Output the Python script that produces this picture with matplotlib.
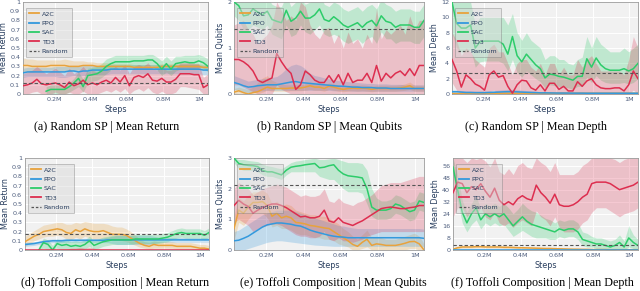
import numpy as np
import matplotlib
matplotlib.use("Agg")
import matplotlib.pyplot as plt
from matplotlib.lines import Line2D

nan = np.nan
steps = np.linspace(0.025e6, 1.05e6, 41)
x_ticks = [0.2e6, 0.4e6, 0.6e6, 0.8e6, 1.0e6]
x_tick_labels = ["0.2M", "0.4M", "0.6M", "0.8M", "1M"]
algos = ["A2C", "PPO", "SAC", "TD3"]

# ---------------- (a) Random SP | Mean Return ----------------
a_a2c = [0.31,0.31,0.30,0.30,0.30,0.30,0.31,0.31,0.31,0.31,0.30,0.30,0.30,0.31,0.31,0.31,0.30,0.30,0.30,0.30,0.30,0.30,0.30,0.30,0.29,0.29,0.29,0.29,0.29,0.29,0.30,0.30,0.30,0.30,0.30,0.30,0.30,0.30,0.30,0.29,0.29]
a_a2c_lo = [0.23,0.24,0.24,0.25,0.25,0.25,0.26,0.26,0.25,0.25,0.25,0.25,0.26,0.26,0.26,0.27,0.27,0.27,0.27,0.27,0.27,0.27,0.27,0.27,0.27,0.27,0.27,0.27,0.27,0.27,0.27,0.27,0.27,0.27,0.27,0.27,0.27,0.27,0.27,0.27,0.27]
a_a2c_hi = [0.39,0.38,0.38,0.37,0.37,0.37,0.37,0.37,0.37,0.38,0.37,0.36,0.36,0.36,0.35,0.35,0.34,0.34,0.34,0.34,0.33,0.33,0.33,0.33,0.32,0.32,0.32,0.32,0.32,0.32,0.33,0.33,0.33,0.33,0.33,0.33,0.33,0.33,0.33,0.32,0.32]
a_ppo = [0.23,0.24,0.24,0.24,0.24,0.24,0.24,0.24,0.24,0.24,0.25,0.25,0.24,0.25,0.25,0.26,0.26,0.26,0.26,0.27,0.27,0.27,0.27,0.27,0.27,0.27,0.27,0.27,0.27,0.27,0.27,0.27,0.27,0.27,0.27,0.27,0.27,0.27,0.27,0.26,0.26]
a_ppo_lo = [0.18,0.19,0.19,0.19,0.19,0.19,0.19,0.19,0.18,0.18,0.19,0.20,0.19,0.20,0.20,0.21,0.21,0.21,0.21,0.22,0.22,0.22,0.22,0.22,0.22,0.22,0.22,0.22,0.22,0.22,0.22,0.22,0.22,0.22,0.22,0.22,0.22,0.22,0.22,0.21,0.21]
a_ppo_hi = [0.28,0.29,0.29,0.29,0.29,0.29,0.29,0.30,0.30,0.30,0.31,0.31,0.30,0.31,0.31,0.31,0.31,0.31,0.31,0.32,0.32,0.32,0.32,0.32,0.32,0.32,0.32,0.32,0.32,0.32,0.32,0.32,0.32,0.32,0.32,0.32,0.32,0.32,0.32,0.31,0.31]
a_sac = [nan,nan,nan,nan,nan,0.03,0.05,0.05,0.05,0.05,0.08,0.12,0.17,0.08,0.20,0.21,0.22,0.25,0.30,0.33,0.35,0.35,0.35,0.35,0.36,0.36,0.36,0.37,0.37,0.33,0.27,0.33,0.27,0.33,0.34,0.35,0.34,0.34,0.36,0.34,0.30]
a_sac_lo = [nan,nan,nan,nan,nan,0.0,0.0,0.0,0.0,0.0,0.02,0.05,0.08,0.02,0.12,0.14,0.15,0.18,0.22,0.26,0.29,0.29,0.29,0.29,0.30,0.30,0.30,0.31,0.30,0.26,0.20,0.24,0.20,0.25,0.27,0.28,0.28,0.28,0.29,0.28,0.24]
a_sac_hi = [nan,nan,nan,nan,nan,0.08,0.10,0.10,0.10,0.10,0.12,0.17,0.24,0.16,0.28,0.29,0.30,0.33,0.38,0.40,0.42,0.42,0.42,0.42,0.42,0.42,0.42,0.43,0.43,0.40,0.36,0.41,0.36,0.41,0.41,0.42,0.42,0.42,0.43,0.41,0.38]
a_td3 = [0.09,0.10,0.12,0.16,0.11,0.10,0.11,0.12,0.10,0.07,0.13,0.09,0.11,0.15,0.10,0.12,0.10,0.13,0.15,0.12,0.18,0.13,0.20,0.09,0.18,0.20,0.18,0.22,0.15,0.14,0.17,0.13,0.13,0.16,0.22,0.22,0.22,0.21,0.21,0.07,0.10]
a_td3_lo = [0.0,0.0,0.02,0.03,0.0,0.0,0.0,0.02,0.0,0.0,0.02,0.0,0.0,0.03,0.0,0.0,0.0,0.02,0.04,0.02,0.05,0.02,0.06,0.0,0.04,0.06,0.03,0.07,0.02,0.0,0.03,0.0,0.0,0.02,0.08,0.08,0.07,0.06,0.05,0.0,0.0]
a_td3_hi = [0.22,0.24,0.26,0.30,0.26,0.22,0.25,0.28,0.24,0.20,0.28,0.22,0.25,0.30,0.24,0.26,0.24,0.27,0.28,0.26,0.30,0.26,0.32,0.22,0.30,0.32,0.30,0.34,0.28,0.26,0.30,0.26,0.26,0.28,0.34,0.34,0.34,0.33,0.33,0.18,0.22]
a_random = 0.115

# ---------------- (b) Random SP | Mean Qubits ----------------
b_sac = [2.0,1.92,1.7,1.72,1.85,1.78,1.72,1.8,1.62,1.58,1.55,1.82,1.58,1.65,1.8,1.65,1.65,1.72,1.85,1.62,1.58,1.68,1.6,1.5,1.45,1.5,1.55,1.45,1.55,1.6,1.48,1.7,1.58,1.55,1.45,1.5,1.5,1.5,1.45,1.45,1.6]
b_sac_lo = [1.7,1.6,1.4,1.4,1.5,1.45,1.4,1.5,1.3,1.25,1.2,1.5,1.25,1.3,1.5,1.35,1.3,1.4,1.5,1.3,1.25,1.3,1.25,1.15,1.1,1.15,1.2,1.1,1.2,1.25,1.1,1.35,1.2,1.2,1.1,1.15,1.15,1.15,1.1,1.1,1.25]
b_sac_hi = [2.3,2.2,2.0,2.05,2.2,2.1,2.05,2.1,1.95,1.9,1.9,2.15,1.9,2.0,2.1,1.95,2.0,2.05,2.2,1.95,1.9,2.0,1.95,1.85,1.8,1.85,1.9,1.8,1.9,1.95,1.85,2.05,1.95,1.9,1.8,1.85,1.85,1.85,1.8,1.8,1.95]
b_td3 = [0.75,0.75,0.7,0.62,0.5,0.3,0.25,0.3,0.35,0.88,0.7,0.55,0.45,0.1,0.2,0.5,0.42,0.3,0.25,0.25,0.4,0.25,0.42,0.2,0.45,0.25,0.3,0.3,0.45,0.25,0.62,0.28,0.45,0.35,0.45,0.5,0.4,0.55,0.4,0.62,0.62]
b_td3_lo = [0.2,0.2,0.15,0.1,0.05,0.0,0.0,0.0,0.0,0.2,0.1,0.05,0.0,0.0,0.0,0.0,0.0,0.0,0.0,0.0,0.0,0.0,0.0,0.0,0.0,0.0,0.0,0.0,0.0,0.0,0.0,0.0,0.0,0.0,0.0,0.0,0.0,0.0,0.0,0.0,0.0]
b_td3_hi = [1.5,1.55,1.6,1.4,1.3,1.1,1.2,1.3,1.5,2.0,1.8,1.6,1.7,1.6,2.0,1.9,1.5,1.3,1.2,1.4,1.45,1.1,1.3,1.0,1.35,1.1,1.2,1.0,1.3,1.1,1.85,1.2,1.4,1.3,1.4,1.5,1.3,1.7,1.4,1.6,1.6]
b_ppo = [0.25,0.22,0.18,0.15,0.16,0.18,0.19,0.2,0.2,0.2,0.22,0.24,0.26,0.27,0.25,0.24,0.23,0.22,0.21,0.2,0.19,0.18,0.17,0.17,0.16,0.15,0.15,0.14,0.14,0.14,0.13,0.13,0.13,0.12,0.12,0.12,0.12,0.12,0.12,0.12,0.12]
b_ppo_lo = [0.1,0.08,0.05,0.03,0.04,0.06,0.07,0.08,0.08,0.08,0.08,0.08,0.08,0.08,0.08,0.08,0.08,0.08,0.08,0.08,0.08,0.07,0.07,0.07,0.07,0.06,0.06,0.06,0.06,0.06,0.06,0.06,0.06,0.06,0.06,0.06,0.06,0.06,0.06,0.06,0.06]
b_ppo_hi = [0.4,0.36,0.32,0.28,0.3,0.32,0.33,0.35,0.36,0.38,0.45,0.55,0.62,0.65,0.62,0.55,0.45,0.4,0.38,0.35,0.33,0.31,0.29,0.28,0.27,0.26,0.25,0.24,0.23,0.23,0.22,0.22,0.22,0.21,0.21,0.21,0.2,0.2,0.2,0.2,0.2]
b_a2c = [0.04,0.07,0.03,0.0,0.03,0.05,0.1,0.15,0.12,0.12,0.12,0.12,0.13,0.13,0.13,0.15,0.18,0.15,0.15,0.12,0.17,0.15,0.12,0.1,0.12,0.13,0.12,0.13,0.12,0.1,0.12,0.12,0.12,0.12,0.12,0.13,0.15,0.18,0.12,0.12,0.12]
b_a2c_lo = [0.0,0.02,0.0,0.0,0.0,0.0,0.04,0.08,0.06,0.06,0.06,0.06,0.07,0.07,0.07,0.08,0.1,0.08,0.08,0.06,0.1,0.08,0.06,0.05,0.06,0.07,0.06,0.07,0.06,0.05,0.06,0.06,0.06,0.06,0.06,0.07,0.08,0.1,0.06,0.06,0.06]
b_a2c_hi = [0.12,0.15,0.12,0.1,0.15,0.25,0.35,0.4,0.3,0.25,0.22,0.2,0.2,0.2,0.2,0.22,0.26,0.22,0.22,0.2,0.24,0.22,0.2,0.17,0.19,0.2,0.19,0.2,0.19,0.17,0.19,0.19,0.19,0.19,0.19,0.2,0.22,0.26,0.19,0.19,0.19]
b_random = 1.42

# ---------------- (c) Random SP | Mean Depth ----------------
c_sac = [12.0,9.2,8.6,8.6,9.0,6.0,6.8,6.9,6.9,6.9,6.9,6.5,5.2,7.5,5.0,4.2,5.2,4.5,3.8,3.3,2.1,2.6,2.5,2.3,2.2,2.0,1.8,2.3,2.3,4.6,3.5,4.7,3.8,3.3,3.1,3.1,3.1,3.3,3.0,3.3,4.0]
c_sac_lo = [8,6,5.5,5.5,5.8,3.5,4.2,4.3,4.3,4.3,4.3,4,3,4.5,2.8,2.2,3,2.5,2,1.6,0.8,1.2,1.1,1,0.9,0.8,0.6,1,1,2.2,1.5,2.4,1.8,1.5,1.4,1.4,1.4,1.5,1.3,1.5,2]
c_sac_hi = [12,12,12,12,12,9,10,10,10,10,10,10,9,10.5,8,7,8,7,6.5,6,4.5,5,5,4.5,4.5,4,3.8,4.5,4.8,7.5,6,7.5,6.5,6,5.5,5.5,5.5,6,5.5,6,6.5]
c_td3 = [4.5,3.0,0.9,2.5,2.0,1.3,1.0,0.5,2.5,3.0,2.2,2.4,1.0,0.1,1.2,1.8,1.7,0.8,0.5,1.2,0.4,1.4,1.4,0.6,1.0,0.4,0.4,1.6,1.0,1.7,2.0,1.2,0.8,0.7,0.7,0.8,0.8,0.4,1.2,3.0,2.0]
c_td3_lo = [1.5,0.5,0,0.3,0,0,0,0,0.3,0.5,0,0.2,0,0,0,0,0,0,0,0,0,0,0,0,0,0,0,0,0,0,0,0,0,0,0,0,0,0,0,0.5,0]
c_td3_hi = [8,7,5,6,5.5,4.5,4,3.5,6,6.5,5.5,5.5,4,2.5,4,4.5,4.5,3.5,3,4,2.5,4,4,2.5,3.5,2.5,2.5,4.5,3.5,4.5,5,4,3,3,3,3,3,2.5,4.5,7.5,6]
c_ppo = [0.3,0.3,0.25,0.2,0.2,0.18,0.18,0.18,0.2,0.22,0.25,0.28,0.3,0.3,0.28,0.25,0.22,0.2,0.18,0.15,0.15,0.14,0.13,0.12,0.12,0.12,0.11,0.11,0.11,0.1,0.1,0.1,0.1,0.1,0.1,0.1,0.1,0.1,0.1,0.1,0.1]
c_ppo_lo = [0.1,0.1,0.08,0.05,0.05,0.05,0.05,0.05,0.05,0.06,0.07,0.08,0.1,0.1,0.08,0.07,0.06,0.05,0.05,0.04,0.04,0.04,0.03,0.03,0.03,0.03,0.03,0.03,0.03,0.02,0.02,0.02,0.02,0.02,0.02,0.02,0.02,0.02,0.02,0.02,0.02]
c_ppo_hi = [0.5,0.5,0.45,0.4,0.4,0.35,0.35,0.35,0.4,0.45,0.5,0.55,0.6,0.6,0.55,0.5,0.45,0.4,0.35,0.3,0.3,0.28,0.26,0.25,0.25,0.25,0.24,0.24,0.24,0.22,0.22,0.22,0.22,0.22,0.22,0.22,0.22,0.22,0.22,0.22,0.22]
c_a2c = [0.05,0.05,0.06,0.08,0.1,0.12,0.12,0.1,0.1,0.1,0.1,0.1,0.1,0.1,0.1,0.1,0.1,0.1,0.1,0.1,0.1,0.1,0.1,0.1,0.1,0.1,0.1,0.1,0.1,0.1,0.1,0.1,0.1,0.1,0.1,0.1,0.1,0.1,0.1,0.1,0.1]
c_a2c_lo = [0.0,0.0,0.0,0.0,0.0,0.0,0.0,0.0,0.0,0.0,0.0,0.0,0.0,0.0,0.0,0.0,0.0,0.0,0.0,0.0,0.0,0.0,0.0,0.0,0.0,0.0,0.0,0.0,0.0,0.0,0.0,0.0,0.0,0.0,0.0,0.0,0.0,0.0,0.0,0.0,0.0]
c_a2c_hi = [0.15,0.15,0.2,0.25,0.3,0.35,0.35,0.3,0.25,0.25,0.2,0.2,0.2,0.2,0.2,0.2,0.2,0.2,0.2,0.2,0.2,0.2,0.2,0.2,0.2,0.2,0.2,0.2,0.2,0.2,0.2,0.2,0.2,0.2,0.2,0.2,0.2,0.2,0.2,0.2,0.2]
c_random = 2.8

# ---------------- (d) Toffoli Composition | Mean Return ----------------
d_a2c = [0.09,0.12,0.15,0.17,0.2,0.21,0.22,0.23,0.22,0.19,0.18,0.22,0.2,0.23,0.21,0.2,0.2,0.21,0.19,0.17,0.17,0.17,0.16,0.13,0.1,0.07,0.05,0.04,0.06,0.05,0.05,0.05,0.05,0.04,0.04,0.04,0.04,0.03,0.02,0.02,0.01]
d_a2c_lo = [0.04,0.07,0.1,0.12,0.14,0.15,0.15,0.16,0.15,0.12,0.11,0.14,0.12,0.15,0.13,0.12,0.12,0.13,0.11,0.1,0.1,0.1,0.09,0.07,0.05,0.03,0.02,0.01,0.02,0.02,0.02,0.02,0.02,0.01,0.01,0.01,0.01,0.0,0.0,0.0,0.0]
d_a2c_hi = [0.15,0.18,0.21,0.24,0.27,0.28,0.29,0.3,0.3,0.28,0.28,0.3,0.29,0.31,0.3,0.29,0.29,0.29,0.28,0.26,0.25,0.25,0.23,0.2,0.16,0.12,0.09,0.08,0.1,0.09,0.09,0.09,0.09,0.08,0.08,0.08,0.08,0.07,0.06,0.06,0.05]
d_ppo = [0.06,0.065,0.07,0.08,0.09,0.095,0.1,0.1,0.1,0.105,0.105,0.105,0.105,0.105,0.105,0.105,0.105,0.105,0.11,0.11,0.11,0.11,0.11,0.11,0.11,0.11,0.11,0.11,0.11,0.11,0.11,0.11,0.11,0.11,0.11,0.11,0.11,0.11,0.11,0.11,0.11]
d_ppo_lo = [0.04,0.045,0.05,0.06,0.07,0.075,0.08,0.08,0.08,0.085,0.085,0.085,0.085,0.085,0.085,0.085,0.085,0.08,0.08,0.07,0.06,0.06,0.06,0.06,0.06,0.06,0.06,0.06,0.07,0.08,0.085,0.085,0.085,0.085,0.085,0.085,0.085,0.085,0.085,0.085,0.085]
d_ppo_hi = [0.08,0.085,0.09,0.1,0.11,0.115,0.12,0.12,0.12,0.125,0.125,0.125,0.125,0.125,0.125,0.125,0.125,0.13,0.14,0.15,0.16,0.16,0.16,0.16,0.16,0.16,0.16,0.16,0.15,0.14,0.135,0.135,0.135,0.135,0.135,0.135,0.135,0.135,0.135,0.135,0.135]
d_sac = [nan,nan,nan,0.0,0.08,0.06,0.0,0.07,0.05,0.06,0.04,0.05,0.04,0.06,0.1,0.05,0.07,0.09,0.1,0.11,0.11,0.11,0.11,0.11,0.12,0.12,0.12,0.12,0.12,0.12,0.13,0.14,0.16,0.18,0.19,0.18,0.18,0.18,0.18,0.16,0.19]
d_sac_lo = [nan,nan,nan,0.0,0.02,0.0,0.0,0.02,0.0,0.01,0.0,0.0,0.0,0.01,0.04,0.0,0.02,0.04,0.05,0.06,0.06,0.06,0.06,0.06,0.07,0.07,0.07,0.07,0.07,0.07,0.08,0.09,0.11,0.13,0.14,0.13,0.13,0.13,0.13,0.11,0.14]
d_sac_hi = [nan,nan,nan,0.04,0.13,0.11,0.05,0.12,0.1,0.11,0.09,0.1,0.09,0.11,0.15,0.1,0.12,0.14,0.15,0.16,0.16,0.16,0.16,0.16,0.17,0.17,0.17,0.17,0.17,0.17,0.18,0.19,0.21,0.23,0.24,0.23,0.23,0.23,0.23,0.21,0.24]
d_td3 = [0.0,0.0,0.0,0.0,0.0,0.0,0.0,0.0,0.0,0.0,0.0,0.0,0.0,0.0,0.0,0.0,0.0,0.0,0.0,0.0,0.0,0.0,0.0,0.0,0.0,0.0,0.0,0.0,0.0,0.0,0.0,0.0,0.0,0.0,0.0,0.0,0.0,0.0,0.0,0.0,0.0]
d_td3_lo = [0.0,0.0,0.0,0.0,0.0,0.0,0.0,0.0,0.0,0.0,0.0,0.0,0.0,0.0,0.0,0.0,0.0,0.0,0.0,0.0,0.0,0.0,0.0,0.0,0.0,0.0,0.0,0.0,0.0,0.0,0.0,0.0,0.0,0.0,0.0,0.0,0.0,0.0,0.0,0.0,0.0]
d_td3_hi = [0.0,0.0,0.0,0.0,0.0,0.0,0.0,0.0,0.0,0.01,0.02,0.02,0.03,0.02,0.03,0.02,0.01,0.0,0.0,0.0,0.0,0.0,0.0,0.0,0.0,0.0,0.0,0.0,0.0,0.0,0.0,0.0,0.0,0.0,0.0,0.0,0.0,0.0,0.0,0.0,0.0]
d_random = 0.175

# ---------------- (e) Toffoli Composition | Mean Qubits ----------------
e_sac = [3.0,2.82,2.78,2.76,2.75,2.72,2.6,2.55,2.55,2.5,2.45,2.6,2.7,2.73,2.75,2.78,2.8,2.82,2.68,2.7,2.75,2.78,2.6,2.48,2.42,2.4,2.38,2.35,2.0,1.4,1.3,1.3,1.3,1.35,1.5,1.45,1.35,1.25,1.3,1.6,1.55]
e_sac_lo = [2.85,2.65,2.6,2.6,2.6,2.55,2.45,2.4,2.4,2.35,2.3,2.45,2.55,2.55,2.55,2.55,2.55,2.55,2.4,2.35,2.3,2.3,2.15,2.0,1.9,1.9,1.9,1.85,1.5,1.1,1.0,1.0,1.0,1.05,1.2,1.15,1.05,0.95,1.0,1.3,1.25]
e_sac_hi = [3.0,2.95,2.95,2.92,2.9,2.88,2.8,2.75,2.72,2.68,2.65,2.75,2.85,2.9,2.92,2.95,2.97,3.0,2.95,2.95,2.97,3.0,2.95,2.9,2.85,2.85,2.85,2.82,2.6,2.0,1.7,1.6,1.6,1.65,1.8,1.75,1.65,1.55,1.6,1.9,1.85]
e_td3 = [1.45,1.62,1.5,1.42,1.2,1.3,1.38,1.45,1.5,1.5,1.45,1.38,1.28,1.18,1.08,1.1,1.05,1.05,1.1,1.3,0.95,0.9,1.05,0.9,0.85,0.8,0.88,0.95,1.05,1.15,1.25,1.35,1.38,1.4,1.38,1.35,1.35,1.38,1.4,1.45,1.45]
e_td3_lo = [0.9,1.0,0.9,0.8,0.6,0.7,0.75,0.8,0.85,0.85,0.8,0.7,0.6,0.5,0.45,0.45,0.4,0.4,0.45,0.6,0.35,0.3,0.4,0.3,0.3,0.25,0.3,0.35,0.45,0.5,0.55,0.6,0.6,0.6,0.6,0.6,0.6,0.6,0.6,0.6,0.6]
e_td3_hi = [2.0,2.2,2.1,2.0,1.8,1.9,2.0,2.05,2.1,2.15,2.1,2.05,1.95,1.85,1.75,1.8,1.75,1.75,1.8,2.0,1.6,1.55,1.7,1.55,1.5,1.45,1.55,1.6,1.7,1.8,1.95,2.1,2.15,2.2,2.2,2.2,2.25,2.3,2.35,2.4,2.4]
e_a2c = [0.7,1.3,1.2,1.4,1.55,1.55,1.58,1.45,1.1,1.2,1.05,1.1,1.05,0.9,0.88,0.85,0.8,0.78,0.75,0.72,0.7,0.6,0.5,0.4,0.3,0.18,0.12,0.25,0.35,0.15,0.2,0.18,0.15,0.15,0.15,0.18,0.22,0.27,0.28,0.2,0.0]
e_a2c_lo = [0.3,0.9,0.8,1.0,1.2,1.2,1.2,1.05,0.75,0.8,0.7,0.7,0.65,0.55,0.5,0.5,0.45,0.4,0.4,0.35,0.35,0.3,0.2,0.15,0.1,0.0,0.0,0.05,0.1,0.0,0.0,0.0,0.0,0.0,0.0,0.0,0.0,0.05,0.05,0.0,0.0]
e_a2c_hi = [1.1,1.7,1.6,1.8,1.9,1.9,1.95,1.85,1.5,1.6,1.45,1.5,1.45,1.3,1.25,1.2,1.15,1.15,1.1,1.1,1.05,0.95,0.85,0.7,0.6,0.45,0.35,0.5,0.65,0.4,0.45,0.4,0.35,0.35,0.35,0.4,0.45,0.5,0.55,0.45,0.2]
e_ppo = [0.3,0.32,0.38,0.45,0.55,0.65,0.75,0.82,0.85,0.88,0.88,0.86,0.84,0.8,0.78,0.72,0.65,0.6,0.56,0.52,0.48,0.45,0.43,0.42,0.4,0.4,0.4,0.4,0.4,0.4,0.4,0.4,0.4,0.4,0.4,0.4,0.4,0.4,0.4,0.4,0.38]
e_ppo_lo = [0.0,0.0,0.0,0.05,0.1,0.15,0.2,0.25,0.28,0.3,0.3,0.28,0.26,0.24,0.22,0.2,0.18,0.16,0.15,0.14,0.13,0.12,0.12,0.12,0.12,0.12,0.12,0.12,0.12,0.12,0.12,0.12,0.12,0.12,0.12,0.12,0.12,0.12,0.12,0.12,0.1]
e_ppo_hi = [0.6,0.65,0.75,0.85,0.95,1.05,1.15,1.2,1.25,1.3,1.3,1.3,1.3,1.25,1.2,1.15,1.1,1.05,1.0,0.95,0.9,0.85,0.8,0.78,0.75,0.72,0.7,0.7,0.7,0.7,0.7,0.7,0.7,0.7,0.7,0.7,0.7,0.7,0.7,0.7,0.68]
e_random = 2.12

# ---------------- (f) Toffoli Composition | Mean Depth ----------------
f_td3 = [38,45,44,38,42,40,44,39,35,41,33,30,32,30,34,36,34,33,43,38,35,31,37,30,29,29,30,32,35,37,44,45,45,45,44,42,40,41,42,43,45]
f_td3_lo = [22,28,28,22,26,24,28,22,20,25,18,16,18,15,18,20,18,16,26,22,20,16,22,15,12,12,12,14,18,20,25,28,28,28,26,24,22,24,25,26,28]
f_td3_hi = [61,61,61,58,61,60,61,59,55,61,52,50,54,50,56,58,55,54,61,58,56,52,58,50,50,50,50,52,56,58,61,61,61,61,61,60,58,60,61,61,61]
f_sac = [55,40,25,18,24,28,20,24,22,24,22,24,20,16,19,22,19,17,16,15,14,13,12,14,13,14,14,12,7,6,5,4,4,3,2,3,5,2,8,5,3]
f_sac_lo = [50,32,18,12,17,20,14,18,16,18,16,17,13,9,11,13,11,9,8,8,8,7,7,9,8,9,9,7,3,2,2,1,1,0,0,0,1,0,2,1,0]
f_sac_hi = [61,50,33,25,31,36,27,31,29,31,29,31,28,24,27,31,28,26,25,23,21,20,18,20,19,20,20,18,12,11,9,8,8,7,6,7,10,6,16,10,7]
f_a2c = [0.5,1.5,2,2,2,2.2,2.2,2,2,2,2,1.8,1.8,1.7,1.5,1.5,1.4,1.3,1.2,1.1,1,1,0.9,0.8,0.7,0.6,0.5,0.5,0.4,0.4,0.3,0.3,0.3,0.3,0.2,0.2,0.2,0.2,0.2,0.2,0.2]
f_a2c_lo = [0,0.8,1.3,1.3,1.3,1.5,1.5,1.3,1.3,1.3,1.3,1.1,1.1,1.0,0.8,0.8,0.7,0.6,0.5,0.4,0.3,0.3,0.2,0.1,0,0,0,0,0,0,0,0,0,0,0,0,0,0,0,0,0]
f_a2c_hi = [1.2,2.2,2.7,2.7,2.7,2.9,2.9,2.7,2.7,2.7,2.7,2.5,2.5,2.4,2.2,2.2,2.1,2.0,1.9,1.8,1.7,1.7,1.6,1.5,1.4,1.3,1.2,1.2,1.1,1.1,1.0,1.0,1.0,1.0,0.9,0.9,0.9,0.9,0.9,0.9,0.9]
f_ppo = [0.3,0.3,0.3,0.3,0.3,0.3,0.3,0.3,0.3,0.3,0.3,0.3,0.3,0.3,0.3,0.3,0.3,0.3,0.3,0.3,0.3,0.3,0.3,0.3,0.3,0.3,0.3,0.3,0.3,0.3,0.3,0.3,0.3,0.3,0.3,0.3,0.3,0.3,0.3,0.3,0.3]
f_ppo_lo = [0,0,0,0,0,0,0,0,0,0,0,0,0,0,0,0,0,0,0,0,0,0,0,0,0,0,0,0,0,0,0,0,0,0,0,0,0,0,0,0,0]
f_ppo_hi = [0.9,0.9,0.9,0.9,0.9,0.9,0.9,0.9,0.9,0.9,0.9,0.9,0.9,0.9,0.9,0.9,0.9,0.9,0.9,0.9,0.9,0.9,0.9,0.9,0.9,0.9,0.9,0.9,0.9,0.9,0.9,0.9,0.9,0.9,0.9,0.9,0.9,0.9,0.9,0.9,0.9]
f_random = 3.5

colors = {"A2C": "#e8a23c", "PPO": "#3399dd", "SAC": "#2dcc6a", "TD3": "#dd2e4f"}
tick_color = "#4d5d7d"
label_color = "#2a3f5f"

panels = [
    dict(box=(23, 2, 208, 94), cap="(a) Random SP | Mean Return", cx=107, cy=127, ylabel="Mean Return",
         ylim=(0, 1), yt=[0, .1, .2, .3, .4, .5, .6, .7, .8, .9, 1],
         ytl=["0", "0.1", "0.2", "0.3", "0.4", "0.5", "0.6", "0.7", "0.8", "0.9", "1"],
         series={"A2C": (a_a2c, a_a2c_lo, a_a2c_hi), "PPO": (a_ppo, a_ppo_lo, a_ppo_hi),
                 "SAC": (a_sac, a_sac_lo, a_sac_hi), "TD3": (a_td3, a_td3_lo, a_td3_hi)},
         rnd=a_random),
    dict(box=(234, 2, 424, 94), cap="(b) Random SP | Mean Qubits", cx=330, cy=127, ylabel="Mean Qubits",
         ylim=(0, 2), yt=[0, 1, 2], ytl=["0", "1", "2"],
         series={"A2C": (b_a2c, b_a2c_lo, b_a2c_hi), "PPO": (b_ppo, b_ppo_lo, b_ppo_hi),
                 "SAC": (b_sac, b_sac_lo, b_sac_hi), "TD3": (b_td3, b_td3_lo, b_td3_hi)},
         rnd=b_random),
    dict(box=(452, 2, 638, 94), cap="(c) Random SP | Mean Depth", cx=536, cy=127, ylabel="Mean Depth",
         ylim=(0, 12), yt=[0, 2, 4, 6, 8, 10, 12], ytl=["0", "2", "4", "6", "8", "10", "12"],
         series={"A2C": (c_a2c, c_a2c_lo, c_a2c_hi), "PPO": (c_ppo, c_ppo_lo, c_ppo_hi),
                 "SAC": (c_sac, c_sac_lo, c_sac_hi), "TD3": (c_td3, c_td3_lo, c_td3_hi)},
         rnd=c_random),
    dict(box=(25, 158, 209, 250), cap="(d) Toffoli Composition | Mean Return", cx=115, cy=283, ylabel="Mean Return",
         ylim=(0, 1), yt=[0, .1, .2, .3, .4, .5, .6, .7, .8, .9, 1],
         ytl=["0", "0.1", "0.2", "0.3", "0.4", "0.5", "0.6", "0.7", "0.8", "0.9", "1"],
         series={"A2C": (d_a2c, d_a2c_lo, d_a2c_hi), "PPO": (d_ppo, d_ppo_lo, d_ppo_hi),
                 "SAC": (d_sac, d_sac_lo, d_sac_hi), "TD3": (d_td3, d_td3_lo, d_td3_hi)},
         rnd=d_random),
    dict(box=(234, 158, 424, 250), cap="(e) Toffoli Composition | Mean Qubits", cx=333, cy=283, ylabel="Mean Qubits",
         ylim=(0, 3), yt=[0, 1, 2, 3], ytl=["0", "1", "2", "3"],
         series={"A2C": (e_a2c, e_a2c_lo, e_a2c_hi), "PPO": (e_ppo, e_ppo_lo, e_ppo_hi),
                 "SAC": (e_sac, e_sac_lo, e_sac_hi), "TD3": (e_td3, e_td3_lo, e_td3_hi)},
         rnd=e_random),
    dict(box=(453, 158, 638, 250), cap="(f) Toffoli Composition | Mean Depth", cx=542, cy=283, ylabel="Mean Depth",
         ylim=(0, 61), yt=[0, 8, 16, 24, 32, 40, 48, 56], ytl=["0", "8", "16", "24", "32", "40", "48", "56"],
         series={"A2C": (f_a2c, f_a2c_lo, f_a2c_hi), "PPO": (f_ppo, f_ppo_lo, f_ppo_hi),
                 "SAC": (f_sac, f_sac_lo, f_sac_hi), "TD3": (f_td3, f_td3_lo, f_td3_hi)},
         rnd=f_random),
]

W, H = 640, 291
fig = plt.figure(figsize=(W / 100, H / 100), dpi=100)

for p in panels:
    l, t, r, b = p["box"]
    ax = fig.add_axes([l / W, 1 - b / H, (r - l) / W, (b - t) / H])
    ax.set_facecolor("#f1f1f1")
    for name in algos:
        m, lo, hi = p["series"][name]
        ax.fill_between(steps, np.array(lo, float), np.array(hi, float), color=colors[name],
                        alpha=0.25, lw=0, zorder=2)
    for name in algos:
        m, lo, hi = p["series"][name]
        ax.plot(steps, np.array(m, float), color=colors[name], lw=1.1, zorder=3)
    ax.axhline(p["rnd"], color="#555555", lw=0.8, ls=(0, (3, 2)), zorder=4)
    ax.set_xlim(steps[0], steps[-1])
    ax.set_ylim(*p["ylim"])
    ax.set_xticks(x_ticks)
    ax.set_xticklabels(x_tick_labels)
    ax.set_yticks(p["yt"])
    ax.set_yticklabels(p["ytl"])
    ax.grid(True, color="white", lw=0.7, zorder=1)
    ax.set_axisbelow(True)
    ax.tick_params(length=0, pad=2, labelsize=4.6, colors=tick_color)
    for s in ax.spines.values():
        s.set_color("#9a9a9a")
        s.set_linewidth(0.6)
    ax.set_xlabel("Steps", fontsize=5.8, color=label_color, labelpad=2.5)
    ax.set_ylabel(p["ylabel"], fontsize=5.8, color=label_color, labelpad=1.5)
    handles = [Line2D([], [], color=colors[n], lw=1.3) for n in algos]
    handles.append(Line2D([], [], color="#555555", lw=0.9, ls=(0, (2, 1.5))))
    leg = ax.legend(handles, algos + ["Random"], loc="upper left", bbox_to_anchor=(0.015, 0.935),
                    fontsize=4.6, frameon=True, fancybox=False, handlelength=1.5, handletextpad=0.5,
                    labelspacing=0.6, borderpad=0.5, borderaxespad=0.0)
    fr = leg.get_frame()
    fr.set_facecolor("#d8d8d8")
    fr.set_alpha(0.45)
    fr.set_edgecolor("#777777")
    fr.set_linewidth(0.6)
    for txt in leg.get_texts():
        txt.set_color(label_color)
    leg.set_zorder(6)
    fig.text(p["cx"] / W, 1 - p["cy"] / H, p["cap"], ha="center", va="center",
             fontsize=8.7, family="Liberation Serif", color="black")

fig.savefig("out.png", dpi=100)
